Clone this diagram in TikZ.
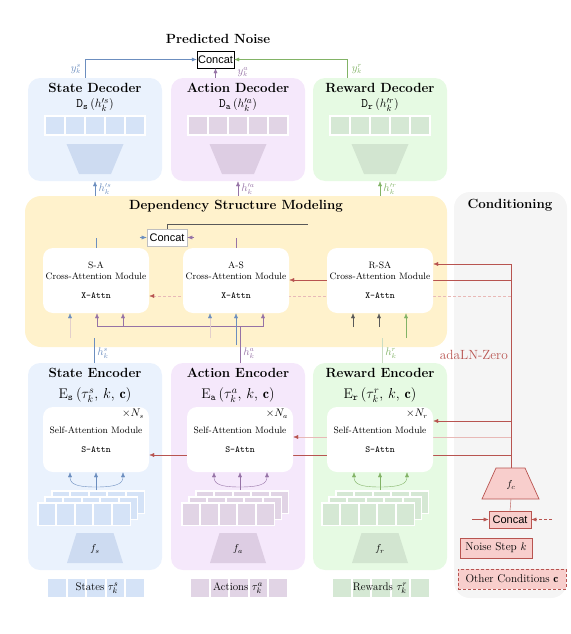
\documentclass[tikz,border=0pt]{standalone}
\usepackage{fontspec}
\usepackage{amsmath}
\newfontfamily\arialfont{Liberation Sans}
\usetikzlibrary{arrows.meta}

\definecolor{swire}{HTML}{6C8EBF}
\definecolor{awire}{HTML}{9673A6}
\definecolor{rwire}{HTML}{82B366}
\definecolor{sbox}{HTML}{EAF2FD}
\definecolor{abox}{HTML}{F5E8FB}
\definecolor{rbox}{HTML}{E6FAE3}
\definecolor{stok}{HTML}{D5E3F7}
\definecolor{atok}{HTML}{E1D4E5}
\definecolor{rtok}{HTML}{D5E8D4}
\definecolor{sfun}{HTML}{CDDBF1}
\definecolor{afun}{HTML}{DDCDE3}
\definecolor{rfun}{HTML}{D2E5D0}
\definecolor{depfill}{HTML}{FFF2CC}
\definecolor{condfill}{HTML}{F5F5F5}
\definecolor{condred}{HTML}{B85450}
\definecolor{condpink}{HTML}{F8CECC}
\definecolor{palered}{HTML}{E8B9B7}
\definecolor{palewire}{HTML}{E3CFCB}
\definecolor{palegreen}{HTML}{CADDC3}
\definecolor{darkwire}{HTML}{595959}

\pgfdeclarelayer{panels}
\pgfdeclarelayer{wires}
\pgfsetlayers{panels,wires,main}

\begin{document}
\begin{tikzpicture}[
		x=1pt, y=-1pt,
		>={Latex[length=5pt,width=4pt]},
		line width=0.9pt,
		panel/.style={rounded corners=12pt, inner sep=0pt},
		module/.style={fill=white, rounded corners=10pt, minimum width=106pt, minimum height=65pt,
				inner sep=0pt, align=center, font=\fontsize{9.3}{11}\selectfont},
		heading/.style={font=\fontsize{13.3}{15}\selectfont\bfseries, inner sep=0.5pt},
		formula/.style={font=\fontsize{13}{15}\selectfont, inner sep=0.5pt},
		tag/.style={font=\fontsize{10.5}{12}\selectfont, inner sep=0.5pt},
		catbox/.style={draw, fill=white, font=\arialfont\fontsize{11}{13}\selectfont, inner sep=1pt, minimum height=17pt},
		redbox/.style={draw=condred, fill=condpink, font=\fontsize{11.3}{13}\selectfont, inner sep=2pt, minimum height=20pt}
	]
	\useasboundingbox (0,0) rectangle (570,634);

	% panels
	\begin{pgfonlayer}{panels}
		\node[panel, fill=sbox, minimum width=134pt, minimum height=103pt] (sdec) at (95,129.5) {};
		\node[panel, fill=abox, minimum width=134pt, minimum height=103pt] (adec) at (238,129.5) {};
		\node[panel, fill=rbox, minimum width=134pt, minimum height=103pt] (rdec) at (380,129.5) {};
		\node[panel, fill=depfill, rounded corners=16pt, minimum width=422pt, minimum height=151pt] (dep) at (236,271.5) {};
		\node[panel, fill=condfill, rounded corners=16pt, minimum width=113pt, minimum height=406pt] (cond) at (510.5,395) {};
		\node[panel, fill=sbox, minimum width=134pt, minimum height=207pt] (senc) at (95,466.5) {};
		\node[panel, fill=abox, minimum width=134pt, minimum height=207pt] (aenc) at (238,466.5) {};
		\node[panel, fill=rbox, minimum width=134pt, minimum height=207pt] (renc) at (380,466.5) {};
	\end{pgfonlayer}

	% output
	\node[heading] (pnoise) at (218,39) {Predicted Noise};
	\node[catbox, minimum width=37pt] (pcat) at (215.5,59.5) {Concat};
	\draw[->,swire] (sdec.north -| 85,0) |- (pcat.west);
	\draw[->,awire] (pcat.south |- adec.north) -- (pcat.south);
	\draw[->,rwire] (rdec.north -| 347,0) |- (pcat.east);
	\node[tag, swire] at (76,69) {$y^{s}_{k}$};
	\node[tag, awire] at (243,72) {$y^{a}_{k}$};
	\node[tag, rwire] at (357,69) {$y^{r}_{k}$};

	% decoders
	\node[heading] (sdect) at (95,88) {State Decoder};
	\node[heading] (adect) at (238,88) {Action Decoder};
	\node[heading] (rdect) at (380,88) {Reward Decoder};
	\node[formula] (sdecf) at (95,105) {$\mathtt{D}_{\mathtt{s}}\,(h^{\prime s}_{k})$};
	\node[formula] (adecf) at (238,105) {$\mathtt{D}_{\mathtt{a}}\,(h^{\prime a}_{k})$};
	\node[formula] (rdecf) at (380,105) {$\mathtt{D}_{\mathtt{r}}\,(h^{\prime r}_{k})$};
	\foreach \c/\cl in {95/s,238/a,380/r}{
		\fill[white] (\c-51,115) rectangle (\c+51,136);
		\foreach \i in {0,...,4}
			\fill[\cl tok] (\c-49+20*\i,117) rectangle ++(18,17);
		\fill[\cl fun] (\c-28.5,144) -- (\c+28.5,144) -- (\c+16,174) -- (\c-16,174) -- cycle;
	}
	\draw[->,swire] (dep.north -| sdec.south) -- (sdec.south);
	\draw[->,awire] (dep.north -| adec.south) -- (adec.south);
	\draw[->,rwire] (dep.north -| rdec.south) -- (rdec.south);
	\node[tag, swire] at (105,189) {$h^{\prime s}_{k}$};
	\node[tag, awire] at (248,189) {$h^{\prime a}_{k}$};
	\node[tag, rwire] at (390,189) {$h^{\prime r}_{k}$};

	% dependency structure
	\node[heading] (dept) at (236,206) {Dependency Structure Modeling};
	\node[heading] (condt) at (510,205) {Conditioning};
	\node[module] (sa) at (96,280.5) {S-A\\Cross-Attention Module\\[8pt]\texttt{X-Attn}};
	\node[module] (as) at (236,280.5) {A-S\\Cross-Attention Module\\[8pt]\texttt{X-Attn}};
	\node[module] (rsa) at (380,280.5) {R-SA\\Cross-Attention Module\\[8pt]\texttt{X-Attn}};

	\node[catbox, draw=gray!50, line width=0.6pt, minimum width=40pt] (mcat) at (167,237.5) {Concat};
	\draw[swire] (sa.north) -- ++(0,-10);
	\draw[->,swire] ([xshift=-7pt]mcat.west) -- (mcat.west);
	\draw[awire] (as.north) -- ++(0,-10);
	\draw[->,awire] ([xshift=7pt]mcat.east) -- (mcat.east);
	\coordinate (rsain) at (308,224);
	\draw[darkwire] (mcat.north) |- (rsain);

	\coordinate (abus) at (240,326);
	\coordinate (shs) at (94,338);
	\draw[swire] (senc.north -| shs) -- (shs);
	\draw[awire] (aenc.north -| abus) -- (abus);
	\draw[->,awire] (abus) -| (sa.south -| 97,0);
	\draw[->,awire] (abus -| 123,0) -- (sa.south -| 123,0);
	\draw[->,awire] (abus) -| (as.south -| 263,0);
	\draw[palewire, -{Latex[length=5pt,width=4pt,color=swire]}] (70,338) -- (sa.south -| 70,0);
	\draw[palewire, -{Latex[length=5pt,width=4pt,color=swire]}] (210,338) -- (as.south -| 210,0);
	\draw[->,swire] (236,345) -- (as.south);
	\draw[->,darkwire] (353,327) -- (rsa.south -| 353,0);
	\draw[->,darkwire] (379,327) -- (rsa.south -| 379,0);
	\draw[->,rwire] (406,338) -- (rsa.south -| 406,0);
	\draw[palegreen] (renc.north -| 382,0) -- (382,338);
	\node[tag, swire] at (103,353) {$h^{s}_{k}$};
	\node[tag, awire] at (249,353) {$h^{a}_{k}$};
	\node[tag, rwire] at (391,353) {$h^{r}_{k}$};

	% encoders
	\node[heading] (senct) at (95,373) {State Encoder};
	\node[heading] (aenct) at (238,373) {Action Encoder};
	\node[heading] (renct) at (380,373) {Reward Encoder};
	\node[formula, font=\fontsize{14}{16}\selectfont] (sencf) at (95,395) {$\mathrm{E}_{\mathtt{s}}\,(\tau^{s}_{k},\, k,\, \mathbf{c})$};
	\node[formula, font=\fontsize{14}{16}\selectfont] (aencf) at (238,395) {$\mathrm{E}_{\mathtt{a}}\,(\tau^{a}_{k},\, k,\, \mathbf{c})$};
	\node[formula, font=\fontsize{14}{16}\selectfont] (rencf) at (380,395) {$\mathrm{E}_{\mathtt{r}}\,(\tau^{r}_{k},\, k,\, \mathbf{c})$};
	\node[module] (attn-s) at (96,439.5) {Self-Attention Module\\[8pt]\texttt{S-Attn}};
	\node[module] (attn-a) at (240,439.5) {Self-Attention Module\\[8pt]\texttt{S-Attn}};
	\node[module] (attn-r) at (380,439.5) {Self-Attention Module\\[8pt]\texttt{S-Attn}};
	\node[tag] at (133,414) {$\times N_{s}$};
	\node[tag] at (277,414) {$\times N_{a}$};
	\node[tag] at (417,414) {$\times N_{r}$};

	\foreach \c/\p/\cl in {96/95/s,240/238/a,380/380/r}{
		\foreach \k in {2,1,0}{
			\fill[white] (\c-59+7*\k,502-6*\k) rectangle ++(94,24);
			\foreach \i in {0,...,4}
				\fill[\cl tok] (\c-57.5+7*\k+18.6*\i,503.5-6*\k) rectangle ++(16.6,21);
		}
		\draw[->,\cl wire] (\c,490) -- (attn-\cl.south);
		\draw[->,\cl wire] (\c,487) .. controls (\c-20,487) and (\c-26,484) .. (attn-\cl.south -| \c-26,0);
		\draw[->,\cl wire] (\c,487) .. controls (\c+20,487) and (\c+27,484) .. (attn-\cl.south -| \c+27,0);
		\fill[\cl fun] (\p-18.5,533) -- (\p+18.5,533) -- (\p+28,563) -- (\p-28,563) -- cycle;
		\node (f\cl) at (\p,549) {$f_{\cl}$};
		\foreach \i in {0,...,4}
			\fill[\cl tok] (\p-47+19.5*\i,579) rectangle ++(17.5,18);
	}
	\node[font=\fontsize{11}{13}\selectfont] (sin) at (97,588) {States $\tau^{s}_{k}$};
	\node[font=\fontsize{11}{13}\selectfont] (ain) at (238,588) {Actions $\tau^{a}_{k}$};
	\node[font=\fontsize{11}{13}\selectfont] (rin) at (380,588) {Rewards $\tau^{r}_{k}$};

	% conditioning
	\filldraw[fill=condpink, draw=condred, line width=0.7pt] (496,468) -- (525,468) -- (539,499) -- (482,499) -- cycle;
	\node (fc) at (511,485) {$f_c$};
	\coordinate (fctop) at (511,468);
	\coordinate (fcbot) at (511,499);
	\node[catbox, draw=condred, fill=condpink, line width=0.7pt, minimum width=42pt] (ccat) at (510,519.5) {Concat};
	\draw[condred] (fcbot) -- (ccat.north);
	\coordinate (ccl) at (472,519.5);
	\coordinate (ccr) at (552,519.5);
	\draw[->,condred] (ccl) -- (ccat.west);
	\draw[->,condred,densely dashed] (ccr) -- (ccat.east);
	\node[redbox, line width=0.7pt, minimum width=72pt] (nstep) at (496,548) {Noise Step $k$};
	\node[redbox, line width=0.7pt, densely dashed, minimum width=108pt] (ocond) at (512,579) {Other Conditions $\mathbf{c}$};
	\node[font=\fontsize{13.3}{15}\selectfont, text=condred, anchor=east, inner sep=1pt] (adaln) at (509,355) {adaLN-Zero};

	\begin{pgfonlayer}{wires}
		\draw[condred] (fctop) -- (fctop |- 0,264);
		\draw[->,condred] (fctop |- 0,264) -- (rsa.east |- 0,264);
		\draw[->,condred] (fctop |- 0,280) -- (as.east |- 0,280);
		\draw[palered, densely dashed, -{Latex[length=5pt,width=4pt,color=condred]}] (fctop |- 0,296) -- (sa.east |- 0,296);
		\draw[->,condred] (fctop |- 0,421) -- (attn-r.east |- 0,421);
		\draw[palered, -{Latex[length=5pt,width=4pt,color=condred]}] (fctop |- 0,437) -- (attn-a.east |- 0,437);
		\draw[->,condred] (fctop |- 0,455) -- (attn-s.east |- 0,455);
	\end{pgfonlayer}
\end{tikzpicture}
\end{document}
